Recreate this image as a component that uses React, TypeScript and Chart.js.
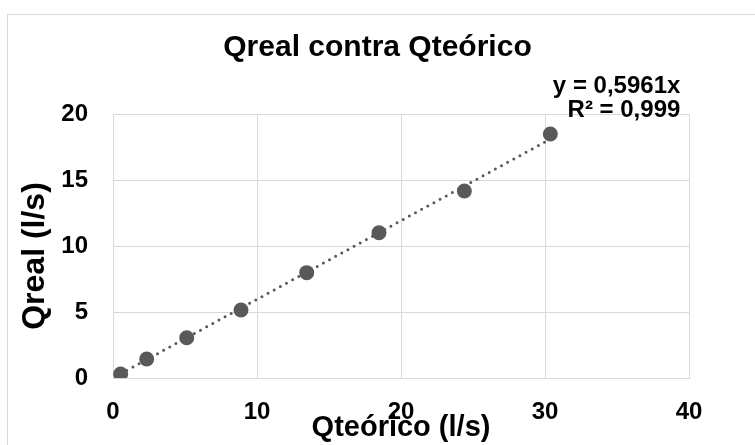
import React, { useEffect, useRef } from "react";
import { Chart, registerables } from "chart.js";

Chart.register(...registerables);

const qTeorico = [0.53, 2.34, 5.12, 8.89, 13.45, 18.47, 24.4, 30.37];
const qReal = [0.3, 1.44, 3.05, 5.15, 7.98, 11.0, 14.17, 18.48];
const trendSlope = 0.5961;
const trendLabel = ["y = 0,5961x", "R² = 0,999"];
const chartTitle = "Qreal contra Qteórico";
const xTitle = "Qteórico (l/s)";
const yTitle = "Qreal (l/s)";

const FONT = "'Liberation Sans', Arial, sans-serif";
const GREY = "#595959";
const GRID = "#d9d9d9";

export default function App() {
  const ref = useRef<HTMLCanvasElement | null>(null);

  useEffect(() => {
    if (!ref.current) return;
    const xMin = Math.min(...qTeorico);
    const xMax = Math.max(...qTeorico);
    const trend = [
      { x: xMin, y: trendSlope * xMin },
      { x: xMax, y: trendSlope * xMax },
    ];

    const framePlugin = {
      id: "frame",
      beforeDraw(chart: any) {
        const ctx = chart.ctx;
        ctx.save();
        ctx.fillStyle = "#fff";
        ctx.fillRect(0, 0, chart.width, chart.height);
        ctx.strokeStyle = GRID;
        ctx.lineWidth = 1;
        ctx.strokeRect(7.5, 14.5, chart.width + 20, chart.height + 20);
        ctx.restore();
      },
      afterDraw(chart: any) {
        const ctx = chart.ctx;
        const xs = chart.scales.x;
        const ys = chart.scales.y;
        const px = xs.getPixelForValue(xMax);
        const py = ys.getPixelForValue(trendSlope * xMax);
        ctx.save();
        ctx.fillStyle = "#000";
        ctx.font = `bold 24px ${FONT}`;
        ctx.textAlign = "right";
        ctx.textBaseline = "alphabetic";
        ctx.fillText(trendLabel[0], px + 130, py - 46);
        ctx.fillText(trendLabel[1], px + 130, py - 22);
        ctx.restore();

        // y-axis title, slightly below the plot centre as in the reference
        const area = chart.chartArea;
        ctx.save();
        ctx.translate(35, (area.top + area.bottom) / 2 + 10);
        ctx.rotate(-Math.PI / 2);
        ctx.fillStyle = "#000";
        ctx.font = `bold 32px ${FONT}`;
        ctx.textAlign = "center";
        ctx.textBaseline = "middle";
        ctx.fillText(yTitle, 0, 0);
        ctx.restore();
      },
    };

    const chart = new Chart(ref.current, {
      type: "scatter",
      data: {
        datasets: [
          {
            label: "Qreal",
            data: qTeorico.map((x, i) => ({ x, y: qReal[i] })),
            backgroundColor: GREY,
            borderColor: GREY,
            pointRadius: 7.5,
            pointBorderWidth: 0,
            order: 0,
          },
          {
            type: "line",
            label: "Tendencia",
            data: trend,
            borderColor: GREY,
            borderWidth: 3,
            borderDash: [0, 7],
            borderCapStyle: "round",
            pointRadius: 0,
            fill: false,
            order: 1,
          } as any,
        ],
      },
      options: {
        animation: false,
        responsive: false,
        layout: { padding: 0 },
        plugins: {
          legend: { display: false },
          tooltip: { enabled: false },
          title: {
            display: true,
            text: chartTitle,
            color: "#000",
            font: { family: FONT, size: 30, weight: "bold" },
            padding: { top: 30, bottom: 48 },
          },
        },
        scales: {
          x: {
            type: "linear",
            min: 0,
            max: 40,
            ticks: {
              stepSize: 10,
              color: "#000",
              font: { family: FONT, size: 24, weight: "bold" },
              padding: 20,
            },
            grid: { color: GRID, lineWidth: 1, drawTicks: false },
            border: { color: GRID },
            title: {
              display: true,
              text: xTitle,
              color: "#000",
              font: { family: FONT, size: 29, weight: "bold" },
              padding: { top: 0, bottom: 0 },
            },
            afterFit(scale: any) {
              scale.height = 67;
            },
          },
          y: {
            type: "linear",
            min: 0,
            max: 20,
            ticks: {
              stepSize: 5,
              color: "#000",
              font: { family: FONT, size: 24, weight: "bold" },
              padding: 25,
            },
            grid: { color: GRID, lineWidth: 1, drawTicks: false },
            border: { color: GRID },
            title: { display: false, text: yTitle },
            afterFit(scale: any) {
              scale.width = 113;
            },
          },
          yRightSpace: {
            type: "linear",
            position: "right",
            display: true,
            grid: { display: false, drawTicks: false },
            border: { display: false },
            ticks: { display: false },
            afterFit(scale: any) {
              scale.width = 66;
            },
          },
        },
      },
      plugins: [framePlugin],
    });
    return () => chart.destroy();
  }, []);

  return (
    <canvas
      ref={ref}
      width={755}
      height={445}
      style={{ position: "fixed", left: 0, top: 0, display: "block" }}
    />
  );
}
